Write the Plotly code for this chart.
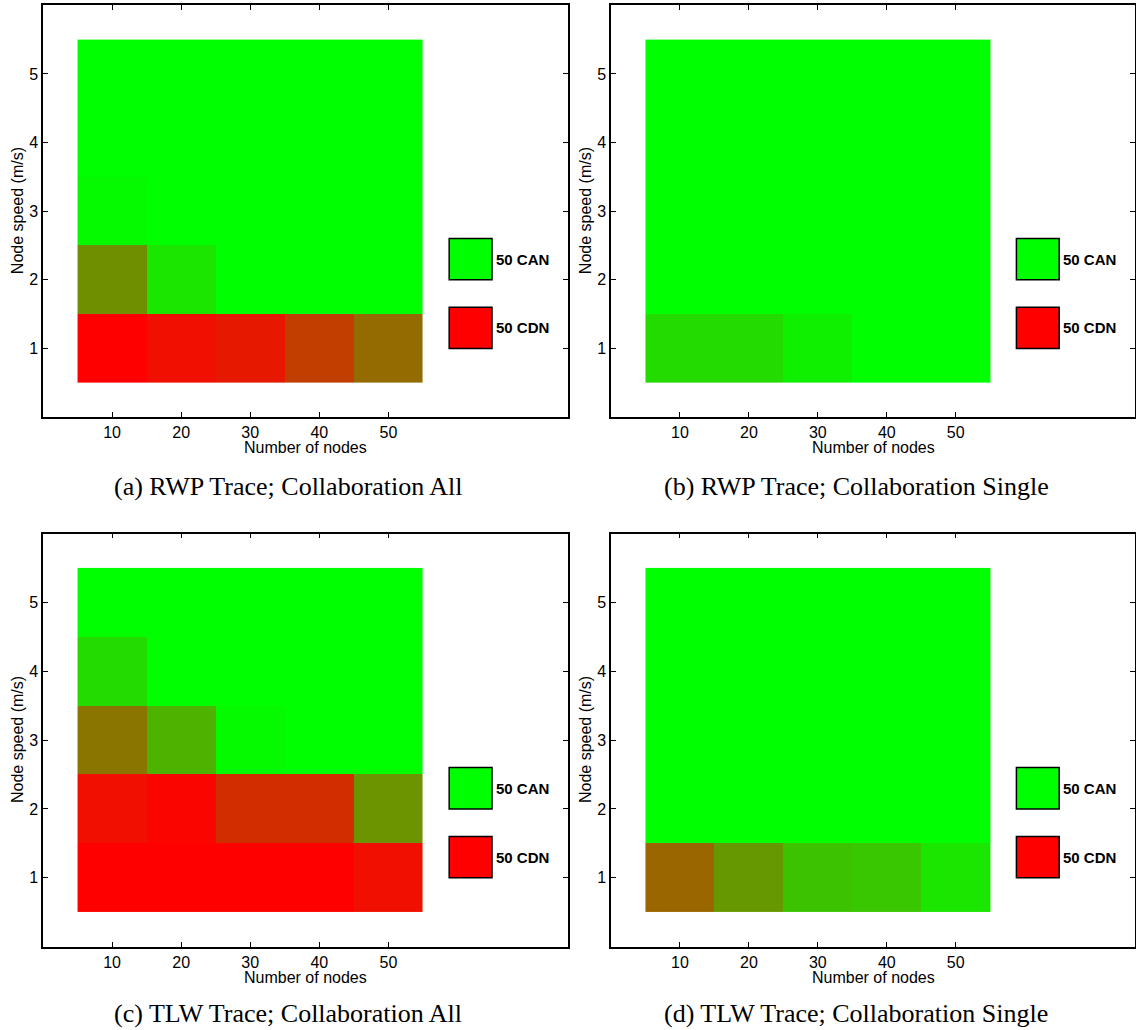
import plotly.graph_objects as go

# Grid of scenarios: number of nodes (x) by node speed (y)
NODES = [10, 20, 30, 40, 50]
SPEEDS = [1, 2, 3, 4, 5]
RUNS = 50  # simulation runs per scenario

# Runs (out of RUNS) in which the CDN outcome was observed; rows follow SPEEDS, columns follow NODES
rwp_all = [
    [50, 47, 45, 38, 29],
    [22, 5, 0, 0, 0],
    [1, 0, 0, 0, 0],
    [0, 0, 0, 0, 0],
    [0, 0, 0, 0, 0],
]
rwp_single = [
    [7, 7, 3, 0, 0],
    [0, 0, 0, 0, 0],
    [0, 0, 0, 0, 0],
    [0, 0, 0, 0, 0],
    [0, 0, 0, 0, 0],
]
tlw_all = [
    [50, 50, 50, 50, 47],
    [47, 49, 41, 41, 21],
    [27, 15, 1, 0, 0],
    [7, 0, 0, 0, 0],
    [0, 0, 0, 0, 0],
]
tlw_single = [
    [30, 20, 12, 11, 5],
    [0, 0, 0, 0, 0],
    [0, 0, 0, 0, 0],
    [0, 0, 0, 0, 0],
    [0, 0, 0, 0, 0],
]
PANELS = [rwp_all, rwp_single, tlw_all, tlw_single]
CAPTIONS = [
    "(a) RWP Trace; Collaboration All",
    "(b) RWP Trace; Collaboration Single",
    "(c) TLW Trace; Collaboration All",
    "(d) TLW Trace; Collaboration Single",
]
X_TITLE = "Number of nodes"
Y_TITLE = "Node speed (m/s)"
KEY_LABELS = [f"{RUNS} CAN", f"{RUNS} CDN"]

GREEN = "rgb(0,255,0)"
RED = "rgb(255,0,0)"

W, H = 1136, 1030
# pixel boxes of the four plot areas: (left, right, top, bottom)
BOXES = [
    (43, 568, 5.3, 417),
    (611, 1135, 5.3, 417),
    (43, 568, 533.5, 946.6),
    (611, 1135, 533.5, 946.6),
]
CAPTION_POS = [(288, 486), (856, 486), (288, 1013), (856, 1013)]
YTITLE_X = [17, 585]

SANS = "Liberation Sans, Arial, Helvetica, sans-serif"
SERIF = "Liberation Serif, Times New Roman, serif"

fig = go.Figure()
layout = dict(
    width=W, height=H,
    margin=dict(l=0, r=0, t=0, b=0),
    paper_bgcolor="white", plot_bgcolor="white",
    showlegend=False,
)
annotations = []
shapes = []

for i, z in enumerate(PANELS):
    n = i + 1
    xa = "x" if n == 1 else f"x{n}"
    ya = "y" if n == 1 else f"y{n}"
    xkey = "xaxis" if n == 1 else f"xaxis{n}"
    ykey = "yaxis" if n == 1 else f"yaxis{n}"
    left, right, top, bottom = BOXES[i]

    fig.add_trace(go.Heatmap(
        x=NODES, y=SPEEDS, z=z,
        zmin=0, zmax=RUNS,
        colorscale=[[0, GREEN], [1, RED]],
        showscale=False, xaxis=xa, yaxis=ya,
        hoverinfo="skip",
    ))

    axis_common = dict(
        showline=True, linecolor="black", linewidth=1.5, mirror="ticks",
        ticks="inside", ticklen=5, tickwidth=1, tickcolor="black",
        showgrid=False, zeroline=False,
        tickfont=dict(family=SANS, size=16, color="black"),
    )
    layout[xkey] = dict(
        axis_common,
        domain=[left / W, right / W],
        range=[0, 76], tickvals=NODES, anchor=ya,
    )
    layout[ykey] = dict(
        axis_common,
        domain=[1 - bottom / H, 1 - top / H],
        range=[0, 6], tickvals=SPEEDS, anchor=xa,
    )

    # colour key boxes drawn inside the plot area
    for fill, y0, label in [(GREEN, 2.0, KEY_LABELS[0]), (RED, 1.0, KEY_LABELS[1])]:
        shapes.append(dict(
            type="rect", xref=xa, yref=ya,
            x0=58.8, x1=65.0, y0=y0, y1=y0 + 0.6,
            fillcolor=fill, line=dict(color="black", width=1.5),
        ))
        annotations.append(dict(
            xref=xa, yref=ya, x=65.3, y=y0 + 0.3,
            text=f"<b>{label}</b>", showarrow=False,
            xanchor="left", yanchor="middle",
            font=dict(family=SANS, size=15, color="black"),
        ))

    # axis titles
    annotations.append(dict(
        xref="paper", yref="paper",
        x=(left + right) / 2 / W, y=1 - (bottom + 31) / H,
        text=X_TITLE, showarrow=False, xanchor="center", yanchor="middle",
        font=dict(family=SANS, size=16, color="black"),
    ))
    annotations.append(dict(
        xref="paper", yref="paper",
        x=YTITLE_X[i % 2] / W, y=1 - (top + bottom) / 2 / H,
        text=Y_TITLE, showarrow=False, textangle=-90,
        xanchor="center", yanchor="middle",
        font=dict(family=SANS, size=16, color="black"),
    ))

    # sub-figure caption
    cx, cy = CAPTION_POS[i]
    annotations.append(dict(
        xref="paper", yref="paper", x=cx / W, y=1 - cy / H,
        text=CAPTIONS[i], showarrow=False, xanchor="center", yanchor="middle",
        font=dict(family=SERIF, size=26, color="black"),
    ))

layout["annotations"] = annotations
layout["shapes"] = shapes
fig.update_layout(**layout)
fig.write_html("out.html")
